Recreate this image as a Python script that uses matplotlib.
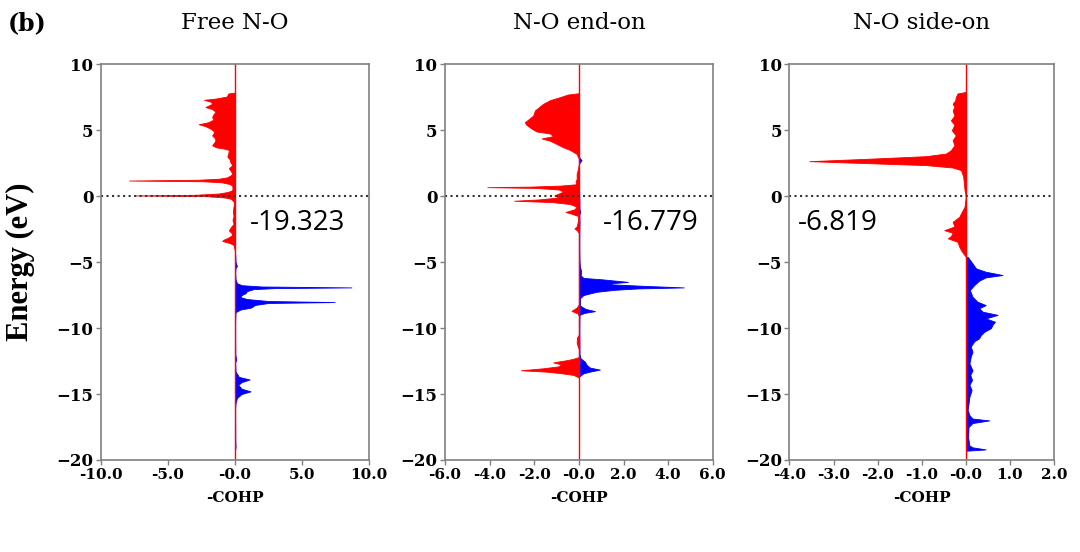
import matplotlib
matplotlib.use("Agg")
import matplotlib.pyplot as plt
import numpy as np

titles = ["Free N-O", "N-O end-on", "N-O side-on"]
icohp = ["-19.323", "-16.779", "-6.819"]
xlims = [(-10, 10), (-6, 6), (-4, 2)]
xticks = [[-10, -5, 0, 5, 10],
          [-6, -4, -2, 0, 2, 4, 6],
          [-4, -3, -2, -1, 0, 1, 2]]
xticklabels = [["-10.0", "-5.0", "-0.0", "5.0", "10.0"],
               ["-6.0", "-4.0", "-2.0", "-0.0", "2.0", "4.0", "6.0"],
               ["-4.0", "-3.0", "-2.0", "-1.0", "-0.0", "1.0", "2.0"]]
yticks = [10, 5, 0, -5, -10, -15, -20]
text_pos = [(4.7, -2.0), (3.2, -2.0), (-2.9, -2.0)]

# Free N-O
e1_red = [7.85, 7.78, 7.55, 7.4, 7.3, 7.15, 7.0, 6.85, 6.75, 6.6, 6.4, 6.2, 6.0, 5.8, 5.6,
          5.45, 5.3, 5.1, 4.9, 4.75, 4.6, 4.4, 4.2, 4.0, 3.85, 3.7, 3.6, 3.5, 3.2, 3.0,
          2.8, 2.6, 2.35, 2.2, 2.1, 1.9, 1.7, 1.55, 1.42, 1.32, 1.24, 1.18, 1.13, 1.05,
          0.92, 0.8, 0.6, 0.45, 0.32, 0.2, 0.1, 0.05, 0.0, -0.1, -0.2, -0.4, -0.6, -0.9,
          -1.2, -1.5, -1.8, -2.1, -2.35, -2.6, -2.8, -2.95, -3.15, -3.3, -3.4, -3.55,
          -3.7, -4.0, -4.2]
x1_red = [0, -0.5, -0.6, -1.4, -2.3, -1.8, -1.7, -2.0, -2.2, -1.7, -1.45, -1.6, -1.7, -1.6, -2.0,
          -2.7, -2.2, -1.8, -1.55, -1.6, -1.7, -1.5, -1.45, -1.6, -1.7, -1.4, -0.8, -0.45, -0.5, -0.57,
          -0.4, -0.35, -0.2, -0.35, -0.45, -0.3, -0.2, -0.35, -0.6, -1.2, -2.8, -7.9, -2.5, -1.0,
          -0.4, -0.2, -0.18, -0.2, -0.5, -1.2, -3.0, -7.5, -2.2, -0.8, -0.3, -0.1, -0.07, -0.12,
          -0.15, -0.1, -0.18, -0.1, -0.3, -0.45, -0.25, -0.2, -0.5, -0.85, -0.95, -0.4,
          -0.1, -0.03, 0]
e1_blue = [-4.2, -4.5, -5.0, -5.3, -5.45, -5.8, -6.3, -6.6, -6.75, -6.85, -6.92, -6.97, -7.05,
           -7.2, -7.35, -7.5, -7.65, -7.8, -7.95, -8.03, -8.1, -8.25, -8.45, -8.6, -8.8, -9.5,
           -10.5, -12.0, -12.4, -12.6, -13.3, -13.7, -13.9, -14.1, -14.3, -14.6, -14.8, -15.0,
           -15.3, -15.7, -16.0, -17.0, -18.5, -19.0, -19.2, -19.3]
x1_blue = [0, 0.03, 0.05, 0.15, 0.05, 0.02, 0.05, 0.15, 0.5, 2.0, 8.7, 3.0, 1.4,
           0.9, 0.8, 0.5, 0.4, 0.9, 2.5, 7.45, 2.5, 1.5, 1.2, 0.4, 0.05, 0.02,
           0.02, 0.03, 0.1, 0.02, 0.05, 0.3, 1.1, 0.5, 0.25, 0.5, 1.17, 0.5,
           0.15, 0.05, 0.02, 0.02, 0.03, 0.05, 0.02, 0]

# N-O end-on
e2_red = [7.8, 7.7, 7.5, 7.27, 7.0, 6.7, 6.5, 6.1, 5.9, 5.6, 5.4, 5.1, 4.9, 4.75, 4.55, 4.37,
          4.2, 4.0, 3.7, 3.5, 3.2, 3.0, 2.85, 2.4, 2.0, 1.7, 1.3, 1.1, 0.9, 0.8, 0.72, 0.68,
          0.62, 0.5, 0.35, 0.2, 0.05, -0.1, -0.25, -0.35, -0.45, -0.6, -0.8, -1.0, -1.2,
          -1.35, -1.5, -1.8, -2.3, -2.45, -2.6, -2.8, -8.2, -8.45, -8.7, -8.9, -9.1, -10.5,
          -10.7, -11.1, -11.4, -11.6, -12.2, -12.35, -12.45, -12.6, -12.75, -12.9, -13.05,
          -13.2, -13.3, -13.4, -13.55, -13.75]
x2_red = [0, -0.5, -0.85, -1.3, -1.6, -1.82, -1.97, -2.05, -2.2, -2.42, -2.35, -2.1, -1.9, -1.3, -1.15, -1.67,
          -1.3, -1.05, -0.7, -0.4, -0.1, -0.05, 0, 0, -0.05, -0.1, -0.1, -0.15, -0.12, -0.8, -2.2, -4.1,
          -1.9, -0.9, -0.7, -0.9, -1.1, -0.9, -1.8, -2.9, -1.2, -0.4, -0.1, -0.2, -0.6,
          -0.3, -0.05, -0.03, -0.1, -0.2, -0.08, 0, 0, -0.1, -0.33, -0.05, 0, 0,
          -0.08, -0.1, -0.05, 0, 0, -0.3, -0.6, -1.15, -0.8, -0.9, -1.6,
          -2.6, -1.5, -0.9, -0.25, 0]
e2_blue = [3.0, 2.85, 2.72, 2.55, 2.4, 1.0, 0.0, -1.0, -1.2, -1.4, -2.0, -3.0, -4.0, -5.0,
           -5.35, -5.7, -6.0, -6.2, -6.3, -6.5, -6.6, -6.68, -6.8, -6.92, -7.0, -7.1, -7.25,
           -7.5, -7.75, -8.3, -8.55, -8.72, -8.85, -9.0, -10.0, -12.0, -12.3, -12.55, -12.8,
           -13.0, -13.15, -13.3, -13.43, -13.7]
x2_blue = [0, 0.06, 0.12, 0.04, 0, 0.0, 0.02, 0.03, 0.06, 0.02, 0.03, 0.02, 0.02, 0.03,
           0.05, 0.1, 0.08, 0.2, 1.0, 2.2, 1.5, 1.4, 2.9, 4.7, 2.6, 1.6, 0.8,
           0.2, 0.05, 0.05, 0.3, 0.72, 0.25, 0.03, 0.02, 0.03, 0.08, 0.27, 0.35,
           0.5, 0.94, 0.5, 0.2, 0]

# N-O side-on
e3_red = [7.9, 7.78, 7.5, 7.27, 7.0, 6.77, 6.5, 6.1, 5.75, 5.4, 5.0, 4.6, 4.24, 3.86, 3.48,
          3.23, 3.03, 2.85, 2.65, 2.53, 2.35, 2.17, 1.97, 1.46, 0.45, 0.0, -0.8, -1.3, -1.57,
          -1.95, -2.3, -2.58, -2.78, -3.03, -3.2, -3.46, -3.84, -4.1, -4.34, -4.6]
x3_red = [0, -0.19, -0.23, -0.24, -0.3, -0.26, -0.3, -0.26, -0.34, -0.26, -0.32, -0.23, -0.3, -0.26, -0.34,
          -0.45, -0.9, -2.1, -3.55, -2.5, -0.9, -0.3, -0.11, -0.06, -0.03, 0, -0.03, -0.11, -0.15,
          -0.3, -0.26, -0.49, -0.3, -0.34, -0.41, -0.19, -0.15, -0.11, -0.06, 0]
e3_blue = [-4.6, -5.1, -5.48, -5.73, -5.98, -6.16, -6.41, -6.74, -7.12, -7.63, -8.0, -8.26,
           -8.5, -8.76, -9.0, -9.27, -9.52, -9.77, -10.0, -10.28, -10.53, -10.78, -11.0,
           -11.4, -11.8, -12.17, -12.68, -13.2, -13.56, -13.94, -14.3, -14.7, -15.2, -15.7,
           -16.2, -16.6, -16.86, -17.0, -17.2, -17.5, -18.3, -18.9, -19.04, -19.2, -19.3]
x3_blue = [0.04, 0.15, 0.23, 0.45, 0.83, 0.45, 0.3, 0.19, 0.09, 0.15, 0.26, 0.45,
           0.3, 0.38, 0.72, 0.45, 0.66, 0.6, 0.57, 0.42, 0.34, 0.3, 0.19,
           0.11, 0.15, 0.11, 0.08, 0.15, 0.1, 0.14, 0.08, 0.13, 0.08, 0.06,
           0.04, 0.08, 0.15, 0.53, 0.15, 0.06, 0.05, 0.08, 0.15, 0.45, 0]

reds = [(e1_red, x1_red), (e2_red, x2_red), (e3_red, x3_red)]
blues = [(e1_blue, x1_blue), (e2_blue, x2_blue), (e3_blue, x3_blue)]

fig = plt.figure(figsize=(10.8, 5.52), dpi=100)
lefts = [0.0935, 0.412, 0.731]
widths = [0.248, 0.248, 0.245]

for i in range(3):
    ax = fig.add_axes([lefts[i], 0.1667, widths[i], 0.717])
    er, xr = reds[i]
    eb, xb = blues[i]
    ax.fill_betweenx(eb, 0, xb, color="#0000ff", lw=0.6)
    ax.fill_betweenx(er, 0, xr, color="#ff0000", lw=0.6)
    ax.axvline(0, color="#ff0000", lw=1.0, zorder=1)
    ax.axhline(0, color="#333333", ls=":", lw=1.5)
    ax.set_xlim(*xlims[i])
    ax.set_ylim(-20, 10)
    ax.set_xticks(xticks[i])
    ax.set_xticklabels(xticklabels[i], fontfamily="DejaVu Serif", fontweight="bold", fontsize=11)
    ax.set_yticks(yticks)
    for lab in ax.get_yticklabels():
        lab.set_fontfamily("DejaVu Serif")
        lab.set_fontweight("bold")
        lab.set_fontsize(12)
    ax.tick_params(direction="out", length=3.5, width=1, color="#808080", pad=2)
    for sp in ax.spines.values():
        sp.set_color("#808080")
        sp.set_linewidth(1.2)
    ax.set_xlabel("-COHP", fontfamily="DejaVu Serif", fontweight="bold", fontsize=11, labelpad=7)
    ax.set_title(titles[i], fontfamily="DejaVu Serif", fontsize=16.5, pad=25)
    ax.text(text_pos[i][0], text_pos[i][1], icohp[i], fontfamily="Open Sans", fontsize=20,
            ha="center", va="center")

fig.text(0.007, 0.958, "(b)", fontfamily="DejaVu Serif", fontweight="bold", fontsize=17, va="center")
fig.text(0.019, 0.525, "Energy (eV)", fontfamily="Liberation Serif", fontweight="bold", fontsize=22,
         rotation=90, ha="center", va="center")

fig.savefig("out.png", dpi=100)
